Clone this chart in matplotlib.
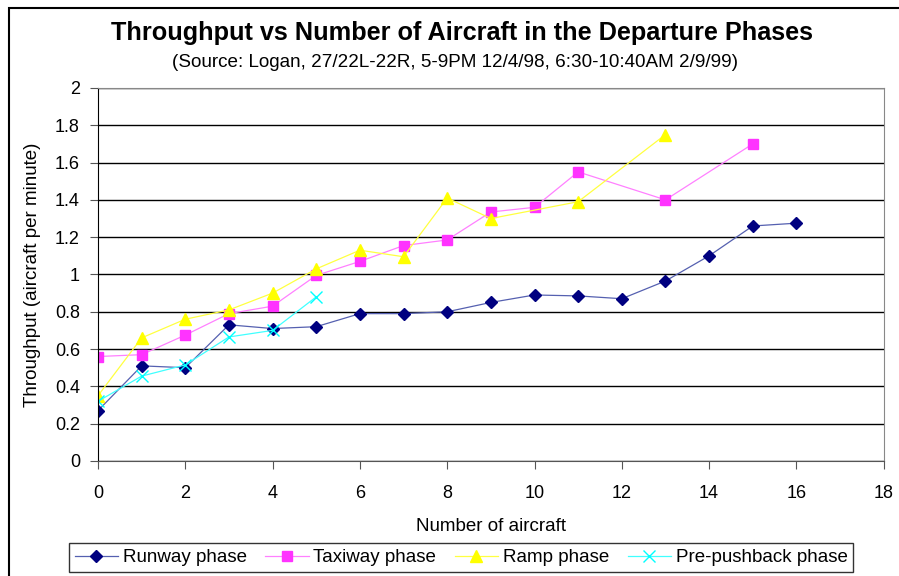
import numpy as np
import matplotlib
matplotlib.use("Agg")
import matplotlib.pyplot as plt
from matplotlib.patches import Rectangle

plt.rcParams['font.family'] = ['Liberation Sans', 'DejaVu Sans']

# data
runway_x = [0, 1, 2, 3, 4, 5, 6, 7, 8, 9, 10, 11, 12, 13, 14, 15, 16]
runway_y = [0.27, 0.51, 0.50, 0.73, 0.71, 0.72, 0.79, 0.79, 0.80, 0.85,
            0.89, 0.885, 0.87, 0.965, 1.10, 1.26, 1.275]

taxi_x = [0, 1, 2, 3, 4, 5, 6, 7, 8, 9, 10, 11, 13, 15]
taxi_y = [0.56, 0.57, 0.675, 0.79, 0.83, 0.995, 1.07, 1.155, 1.185, 1.335,
          1.36, 1.55, 1.40, 1.70]

ramp_x = [0, 1, 2, 3, 4, 5, 6, 7, 8, 9, 11, 13]
ramp_y = [0.35, 0.66, 0.76, 0.81, 0.90, 1.03, 1.13, 1.095, 1.41, 1.30, 1.39, 1.75]

push_x = [0, 1, 2, 3, 4, 5]
push_y = [0.32, 0.455, 0.515, 0.665, 0.70, 0.88]

labels = ['Runway phase', 'Taxiway phase', 'Ramp phase', 'Pre-pushback phase']

fig = plt.figure(figsize=(8.99, 5.76), dpi=100)
ax = fig.add_axes([0.109, 0.1997, 0.874, 0.6476])

ax.plot(runway_x, runway_y, color='#5560b0', lw=0.9, marker='D', ms=6,
        mfc='#000080', mec='#000080', label=labels[0])
ax.plot(taxi_x, taxi_y, color='#ff80ff', lw=0.9, marker='s', ms=6.5,
        mfc='#ff33ff', mec='#ff33ff', label=labels[1])
ax.plot(ramp_x, ramp_y, color='#ffff40', lw=0.9, marker='^', ms=8,
        mfc='#ffff00', mec='#ffff00', label=labels[2])
ax.plot(push_x, push_y, color='#40ffff', lw=0.9, marker='x', ms=8, mew=1,
        mfc='#00ffff', mec='#00ffff', label=labels[3])

ax.set_xlim(0, 18)
ax.set_ylim(0, 2)
yt = np.round(np.arange(0, 2.01, 0.2), 1)
ax.set_xticks(np.arange(0, 19, 2))
ax.set_yticks(yt)
ax.set_yticklabels(['%g' % v for v in yt])
ax.yaxis.grid(True, color='black', lw=1)
ax.set_axisbelow(True)
ax.tick_params(labelsize=13, direction='out', length=6, color='#555555')
ax.tick_params(axis='x', pad=11)
ax.tick_params(axis='y', pad=7)
for s in ['top', 'right']:
    ax.spines[s].set_color('#888888')
ax.spines['left'].set_color('black')
ax.spines['bottom'].set_color('#555555')

ax.set_xlabel('Number of aircraft', fontsize=13.5, labelpad=12)
ax.set_ylabel('Throughput (aircraft per minute)', fontsize=13.5, labelpad=10)

fig.text(0.514, 0.942, 'Throughput vs Number of Aircraft in the Departure Phases',
         ha='center', va='center', fontsize=18.2, fontweight='bold')
fig.text(0.506, 0.892, '(Source: Logan, 27/22L-22R, 5-9PM 12/4/98, 6:30-10:40AM 2/9/99)',
         ha='center', va='center', fontsize=13.6)

leg = fig.legend(loc='center', bbox_to_anchor=(0.513, 0.032), ncol=4,
                 fontsize=13.5, frameon=True, fancybox=False, edgecolor='black',
                 handlelength=2.3, columnspacing=1.0, handletextpad=0.25,
                 borderpad=0.3, borderaxespad=0.2)
leg.get_frame().set_linewidth(1)

# chart border (cropped at right and bottom like the reference)
fig.patches.append(Rectangle((0.01, -0.05), 1.05, 1.036, transform=fig.transFigure,
                             fill=False, edgecolor='black', lw=1.5))

fig.savefig('out.png', dpi=100)
